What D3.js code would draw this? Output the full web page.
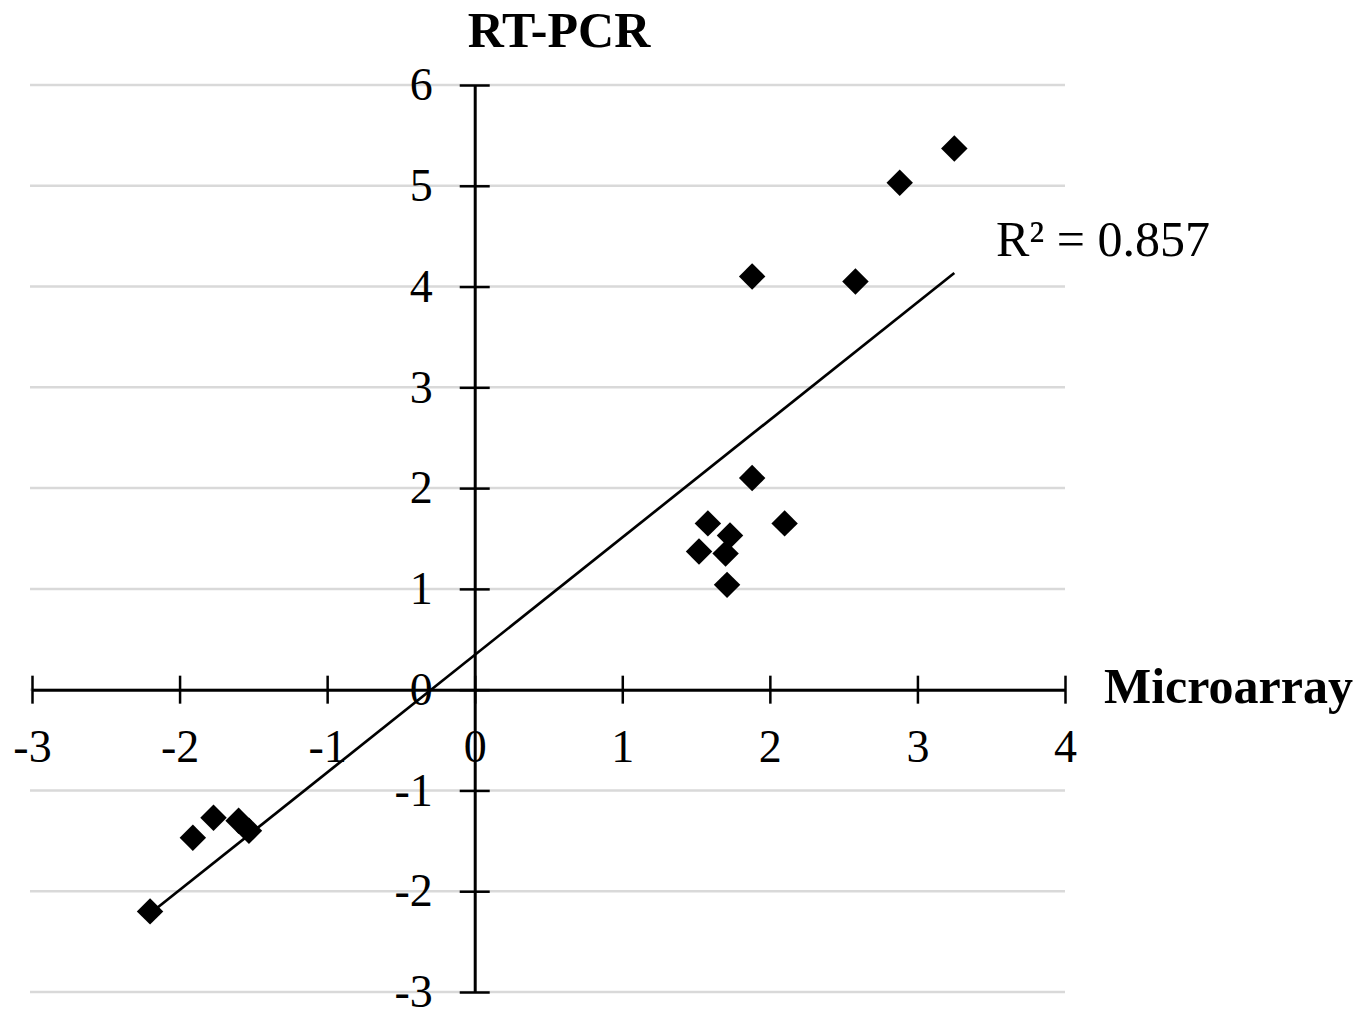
<!DOCTYPE html>
<html>
<head>
<meta charset="utf-8">
<script src="https://cdn.jsdelivr.net/npm/d3@7"></script>
<style>
  body { margin: 0; background: #fff; }
  svg { display: block; font-family: "Liberation Serif", "Times New Roman", serif; }
</style>
</head>
<body>
<div id="chart"></div>
<script>
// fold change values
let microarray = [3.25, 2.88, 1.88, 2.58, 1.88, 2.10, 1.58, 1.73, 1.52, 1.70, 1.71, -1.91, -1.77, -1.60, -1.53, -2.20];
let rtpcr      = [5.37, 5.03, 4.10, 4.05, 2.10, 1.65, 1.65, 1.53, 1.37, 1.35, 1.04, -1.47, -1.27, -1.30, -1.40, -2.20];
let xTicks = [-3, -2, -1, 0, 1, 2, 3, 4];
let yTicks = [-3, -2, -1, 0, 1, 2, 3, 4, 5, 6];
let r2Label = "R² = 0.857";

let width = 1371;
let height = 1013;

let data = microarray.map((x, i) => ({x: x, y: rtpcr[i]}));

let xScale = d3.scaleLinear().domain([-3, 4]).range([32, 1065]);
let yScale = d3.scaleLinear().domain([-3, 6]).range([992, 85]);

// plain hyphen for negatives, like the original
let fmt = d => String(d);

let svg = d3.select("#chart")
    .append("svg")
    .attr("width", width)
    .attr("height", height)
    .attr("viewBox", [0, 0, width, height]);

// horizontal gridlines
svg.append("g")
    .selectAll("line")
    .data(yTicks)
    .join("line")
    .attr("x1", xScale(-3) - 2)
    .attr("x2", xScale(4))
    .attr("y1", d => yScale(d))
    .attr("y2", d => yScale(d))
    .attr("stroke", "#d9d9d9")
    .attr("stroke-width", 2.5);

// x axis through y = 0, ticks crossing the line
let xAxis = g => g
    .attr("transform", `translate(0,${yScale(0)})`)
    .call(d3.axisBottom(xScale).tickValues(xTicks).tickSize(14).tickSizeOuter(0).tickFormat(fmt))
    .call(g => g.select(".domain").attr("stroke", "#000").attr("stroke-width", 3))
    .call(g => g.selectAll(".tick line").attr("y1", -14).attr("stroke", "#000").attr("stroke-width", 2.5))
    .call(g => g.selectAll(".tick text")
        .attr("y", 72)
        .attr("dy", null)
        .attr("font-size", 46)
        .attr("font-family", "Liberation Serif, serif")
        .attr("fill", "#000"));

// y axis through x = 0
let yAxis = g => g
    .attr("transform", `translate(${xScale(0)},0)`)
    .call(d3.axisLeft(yScale).tickValues(yTicks).tickSize(15).tickSizeOuter(0).tickFormat(fmt))
    .call(g => g.select(".domain").attr("stroke", "#000").attr("stroke-width", 3))
    .call(g => g.selectAll(".tick line").attr("x1", 15).attr("stroke", "#000").attr("stroke-width", 2.5))
    .call(g => g.selectAll(".tick text")
        .attr("x", -42)
        .attr("dy", "0.32em")
        .attr("font-size", 46)
        .attr("font-family", "Liberation Serif, serif")
        .attr("fill", "#000"));

svg.append("g").call(xAxis);
svg.append("g").call(yAxis);

// linear trendline (least squares), spanning the data range
let mx = d3.mean(data, d => d.x);
let my = d3.mean(data, d => d.y);
let slope = d3.sum(data, d => (d.x - mx) * (d.y - my)) / d3.sum(data, d => (d.x - mx) ** 2);
let intercept = my - slope * mx;
let xr = d3.extent(data, d => d.x);

svg.append("line")
    .attr("x1", xScale(xr[0]))
    .attr("y1", yScale(slope * xr[0] + intercept))
    .attr("x2", xScale(xr[1]))
    .attr("y2", yScale(slope * xr[1] + intercept))
    .attr("stroke", "#000")
    .attr("stroke-width", 2.7);

// diamond markers
svg.append("g")
    .selectAll("path")
    .data(data)
    .join("path")
    .attr("d", d3.symbol(d3.symbolSquare, 350))
    .attr("transform", d => `translate(${xScale(d.x)},${yScale(d.y)}) rotate(45)`)
    .attr("fill", "#000");

// labels
svg.append("text")
    .attr("x", 559)
    .attr("y", 47)
    .attr("text-anchor", "middle")
    .attr("font-size", 50)
    .attr("font-weight", "bold")
    .text("RT-PCR");

svg.append("text")
    .attr("x", 1104)
    .attr("y", 703)
    .attr("font-size", 50)
    .attr("font-weight", "bold")
    .text("Microarray");

svg.append("text")
    .attr("x", 996)
    .attr("y", 256)
    .attr("font-size", 50)
    .text(r2Label);
</script>
</body>
</html>
